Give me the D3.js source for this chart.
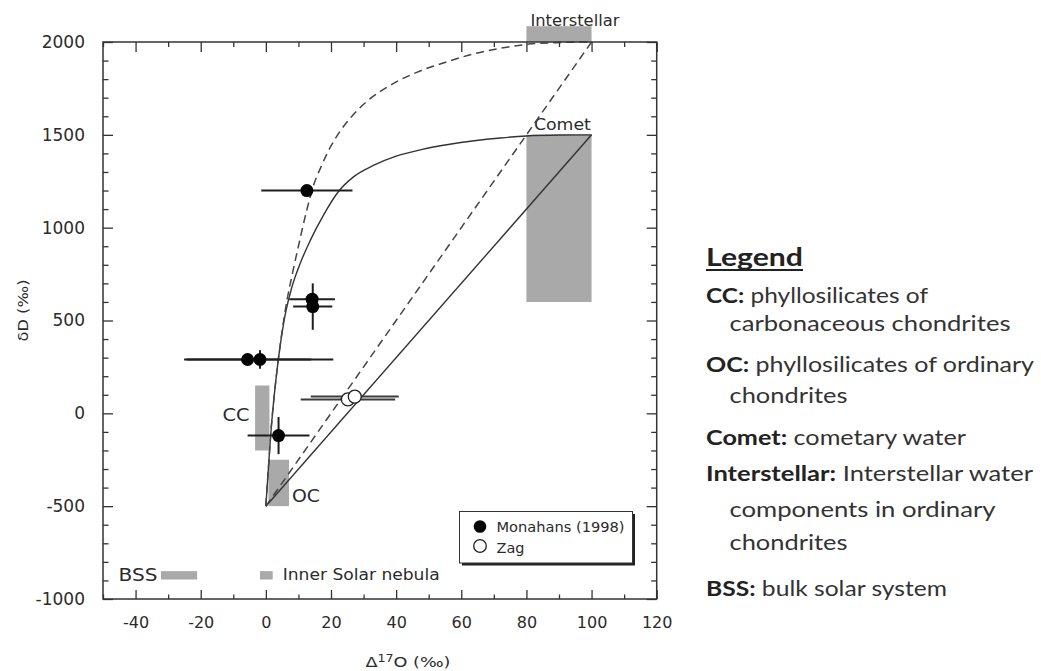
<!DOCTYPE html>
<html>
<head>
<meta charset="utf-8">
<script src="https://cdn.jsdelivr.net/npm/d3@7"></script>
<style>
  body { margin: 0; background: #fff; }
  svg { display: block; }
</style>
</head>
<body>
<svg id="chart" width="1041" height="671"></svg>
<script>
// ---- Data -------------------------------------------------------------
// Axes: Δ17O (‰) against δD (‰)
const xDomain = [-50, 120];
const yDomain = [-1000, 2000];
const xMajorTicks = [-40, -20, 0, 20, 40, 60, 80, 100, 120];
const xMinorTicks = [-50, -30, -10, 10, 30, 50, 70, 90, 110];
const yMajorTicks = [-1000, -500, 0, 500, 1000, 1500, 2000];
const yMinorTicks = [-900, -800, -700, -600, -400, -300, -200, -100, 100, 200, 300, 400,
                     600, 700, 800, 900, 1100, 1200, 1300, 1400, 1600, 1700, 1800, 1900];

// Monahans (1998) measurements with error bars
const monahansX    = [12.6, 14.2, 14.4, -5.6, -1.8, 3.9];
const monahansY    = [1200, 615, 575, 290, 290, -120];
const monahansXErr = [14, 7, 6, 19.5, 22.5, 9.5];
const monahansYErr = [0, 0, 125, 0, 50, 100];

// Zag measurements with error bars
const zagX    = [25.2, 27.3];
const zagY    = [75, 90];
const zagXErr = [14.5, 13.5];

const seriesNames = ["Monahans (1998)", "Zag"];

// Water reservoirs (grey fields)
const regionNames = ["Interstellar", "Comet", "CC", "OC", "BSS", "Inner Solar nebula"];
const regionX0 = [80, 80, -3.3, 0.8, -32.2, -1.8];
const regionX1 = [100, 100, 1.1, 7.1, -21.1, 2.1];
const regionY0 = [2000, 600, -200, -500, -895, -895];
const regionY1 = [2085, 1500, 150, -250, -850, -850];

// Mixing curves towards cometary water (solid) and interstellar water (dashed)
const cometCurveX = [0, 0.8, 1.6, 2.6, 3.9, 5.6, 8, 10.6, 13.6, 17.7, 22.3, 27, 33, 40, 48, 56, 64, 72, 80, 90, 100];
const cometCurveY = [-500, -290, -90, 100, 300, 500, 680, 810, 930, 1068, 1195, 1275, 1335, 1385, 1422, 1448, 1468, 1483, 1494, 1499, 1500];
const interstellarCurveX = [0, 0.8, 1.6, 2.6, 3.9, 5.3, 6.5, 8, 10, 12.5, 14.5, 17, 20, 23, 25.9, 31, 38, 46.5, 55, 64, 74, 80, 90, 100];
const interstellarCurveY = [-500, -290, -90, 100, 300, 480, 610, 740, 900, 1090, 1220, 1330, 1440, 1525, 1590, 1680, 1765, 1838, 1890, 1937, 1972, 1987, 1997, 2000];
const cometLineX = [0, 100];
const cometLineY = [-500, 1500];
const interstellarLineX = [0, 100];
const interstellarLineY = [-500, 2000];

// Side legend text
const legendTitle = "Legend";
const legendTerms = ["CC:", "OC:", "Comet:", "Interstellar:", "BSS:"];
const legendDescriptions = [
  ["phyllosilicates of", "carbonaceous chondrites"],
  ["phyllosilicates of ordinary", "chondrites"],
  ["cometary water"],
  ["Interstellar water", "components in ordinary", "chondrites"],
  ["bulk solar system"]
];

// ---- Layout -------------------------------------------------------------
const svg = d3.select("#chart");
const chartFont = "'DejaVu Sans', sans-serif";
const sideFont = "Lato, 'Open Sans', sans-serif";
const ink = "#2b2b2b";

const x = d3.scaleLinear().domain(xDomain).range([103, 656.7]);
const y = d3.scaleLinear().domain(yDomain).range([599, 42]);

const zip = (a, b) => a.map((v, i) => [v, b[i]]);

// grey reservoir fields
svg.append("g")
  .selectAll("rect")
  .data(regionNames.map((n, i) => i))
  .join("rect")
  .attr("x", i => x(regionX0[i]))
  .attr("width", i => x(regionX1[i]) - x(regionX0[i]))
  .attr("y", i => y(regionY1[i]))
  .attr("height", i => y(regionY0[i]) - y(regionY1[i]))
  .attr("fill", "#a9a9a9");

// reservoir labels: [anchor, corner x, corner y, dx, dy, font size, text length]
const regionLabelLayout = [
  ["start", "x0", "y1", 4, -0.5, 16, 89],
  ["start", "x0", "y1", 7.5, -4.5, 16, 57],
  ["end", "x0", "mid", -5.5, 3, 17.5, 27],
  ["start", "x1", "y0", 3, -4, 17.5, 28],
  ["end", "x0", "y0", -3.5, 1, 17, 39],
  ["start", "x1", "y0", 10, 0.5, 16, 157]
];
svg.append("g")
  .selectAll("text")
  .data(regionNames.map((n, i) => i))
  .join("text")
  .attr("text-anchor", i => regionLabelLayout[i][0])
  .attr("x", i => (regionLabelLayout[i][1] === "x0" ? x(regionX0[i]) : x(regionX1[i])) + regionLabelLayout[i][3])
  .attr("y", i => {
    const L = regionLabelLayout[i];
    const yy = L[2] === "y0" ? y(regionY0[i]) : L[2] === "y1" ? y(regionY1[i]) : (y(regionY0[i]) + y(regionY1[i])) / 2;
    return yy + L[4];
  })
  .attr("font-family", chartFont)
  .attr("font-size", i => regionLabelLayout[i][5])
  .attr("textLength", i => regionLabelLayout[i][6])
  .attr("lengthAdjust", "spacingAndGlyphs")
  .attr("fill", ink)
  .text(i => regionNames[i]);

// mixing lines and curves
const line = d3.line().x(d => x(d[0])).y(d => y(d[1]));
const curve = d3.line().x(d => x(d[0])).y(d => y(d[1])).curve(d3.curveMonotoneX);
const mix = svg.append("g").attr("fill", "none");
mix.append("path").attr("d", line(zip(cometLineX, cometLineY)))
  .attr("stroke", "#333").attr("stroke-width", 1.4);
mix.append("path").attr("d", line(zip(interstellarLineX, interstellarLineY)))
  .attr("stroke", "#444").attr("stroke-width", 1.5).attr("stroke-dasharray", "8,5");
mix.append("path").attr("d", curve(zip(cometCurveX, cometCurveY)))
  .attr("stroke", "#333").attr("stroke-width", 1.4);
mix.append("path").attr("d", curve(zip(interstellarCurveX, interstellarCurveY)))
  .attr("stroke", "#444").attr("stroke-width", 1.5).attr("stroke-dasharray", "8,5");

// frame and inward ticks on all four sides
const fmt = d => String(d);
function styleAxis(g) {
  g.select(".domain").remove();
  g.selectAll(".tick line").attr("stroke", "#333").attr("stroke-width", 1.3);
  g.selectAll(".tick text").attr("font-family", chartFont).attr("fill", ink);
}
svg.append("g").attr("transform", `translate(0,${y(-1000)})`)
  .call(d3.axisBottom(x).tickValues(xMajorTicks).tickSizeInner(-9).tickSizeOuter(0).tickPadding(18).tickFormat(fmt))
  .call(styleAxis).call(g => g.selectAll(".tick text").attr("font-size", 16));
svg.append("g").attr("transform", `translate(0,${y(-1000)})`)
  .call(d3.axisBottom(x).tickValues(xMinorTicks).tickSizeInner(-4.5).tickSizeOuter(0).tickFormat(""))
  .call(styleAxis);
svg.append("g").attr("transform", `translate(0,${y(2000)})`)
  .call(d3.axisTop(x).tickValues(xMajorTicks).tickSizeInner(-10).tickSizeOuter(0).tickFormat(""))
  .call(styleAxis);
svg.append("g").attr("transform", `translate(0,${y(2000)})`)
  .call(d3.axisTop(x).tickValues(xMinorTicks).tickSizeInner(-5).tickSizeOuter(0).tickFormat(""))
  .call(styleAxis);
svg.append("g").attr("transform", `translate(${x(-50)},0)`)
  .call(d3.axisLeft(y).tickValues(yMajorTicks).tickSizeInner(-10).tickSizeOuter(0).tickPadding(18).tickFormat(fmt))
  .call(styleAxis).call(g => g.selectAll(".tick text").attr("font-size", 17));
svg.append("g").attr("transform", `translate(${x(-50)},0)`)
  .call(d3.axisLeft(y).tickValues(yMinorTicks).tickSizeInner(-5.5).tickSizeOuter(0).tickFormat(""))
  .call(styleAxis);
svg.append("g").attr("transform", `translate(${x(120)},0)`)
  .call(d3.axisRight(y).tickValues(yMajorTicks).tickSizeInner(-10).tickSizeOuter(0).tickFormat(""))
  .call(styleAxis);
svg.append("g").attr("transform", `translate(${x(120)},0)`)
  .call(d3.axisRight(y).tickValues(yMinorTicks).tickSizeInner(-5.5).tickSizeOuter(0).tickFormat(""))
  .call(styleAxis);
svg.append("rect")
  .attr("x", x(-50)).attr("y", y(2000))
  .attr("width", x(120) - x(-50)).attr("height", y(-1000) - y(2000))
  .attr("fill", "none").attr("stroke", "#333").attr("stroke-width", 1.5);

// axis titles
svg.append("text")
  .attr("transform", `translate(27.5,${(y(2000) + y(-1000)) / 2 - 10}) rotate(-90)`)
  .attr("text-anchor", "middle")
  .attr("font-family", chartFont).attr("font-size", 14).attr("fill", ink)
  .attr("textLength", 62).attr("lengthAdjust", "spacingAndGlyphs")
  .text("δD (‰)");
const xt = svg.append("text")
  .attr("x", 408).attr("y", 667)
  .attr("text-anchor", "middle")
  .attr("font-family", chartFont).attr("font-size", 14).attr("fill", ink)
  .attr("textLength", 85).attr("lengthAdjust", "spacingAndGlyphs");
xt.append("tspan").text("Δ");
xt.append("tspan").attr("font-size", 10).attr("dy", -5).text("17");
xt.append("tspan").attr("dy", 5).text("O (‰)");

// error bars
const err = svg.append("g").attr("stroke", "#1e1e1e").attr("stroke-width", 2);
monahansX.forEach((v, i) => {
  err.append("line")
    .attr("x1", x(v - monahansXErr[i])).attr("x2", x(v + monahansXErr[i]))
    .attr("y1", y(monahansY[i])).attr("y2", y(monahansY[i]));
  if (monahansYErr[i] > 0) {
    err.append("line")
      .attr("x1", x(v)).attr("x2", x(v))
      .attr("y1", y(monahansY[i] - monahansYErr[i])).attr("y2", y(monahansY[i] + monahansYErr[i]));
  }
});
zagX.forEach((v, i) => {
  err.append("line")
    .attr("x1", x(v - zagXErr[i])).attr("x2", x(v + zagXErr[i]))
    .attr("y1", y(zagY[i])).attr("y2", y(zagY[i]))
    .attr("stroke", "#3a3a3a");
});

// data points
svg.append("g").selectAll("circle")
  .data(zip(monahansX, monahansY)).join("circle")
  .attr("cx", d => x(d[0])).attr("cy", d => y(d[1])).attr("r", 6.5)
  .attr("fill", "#050505");
svg.append("g").selectAll("circle")
  .data(zip(zagX, zagY)).join("circle")
  .attr("cx", d => x(d[0])).attr("cy", d => y(d[1])).attr("r", 6.5)
  .attr("fill", "#fff").attr("stroke", "#222").attr("stroke-width", 1.3);

// series key
const key = svg.append("g").attr("transform", "translate(459.5,511.5)");
key.append("rect").attr("x", 2.5).attr("y", 2.5).attr("width", 173).attr("height", 51.5).attr("fill", "#222");
key.append("rect").attr("width", 173).attr("height", 51.5).attr("fill", "#fff").attr("stroke", "#333").attr("stroke-width", 1);
key.append("circle").attr("cx", 20.5).attr("cy", 15).attr("r", 6.3).attr("fill", "#050505");
key.append("circle").attr("cx", 20.5).attr("cy", 34.5).attr("r", 6.3).attr("fill", "#fff").attr("stroke", "#222").attr("stroke-width", 1.3);
const keyWidths = [128, 28];
seriesNames.forEach((n, i) => {
  key.append("text")
    .attr("x", 37).attr("y", 20.5 + i * 20.5)
    .attr("font-family", chartFont).attr("font-size", 14).attr("fill", ink)
    .attr("textLength", keyWidths[i]).attr("lengthAdjust", "spacingAndGlyphs")
    .text(n);
});

// side legend
const side = svg.append("g").attr("font-family", sideFont).attr("fill", "#222");
side.append("text")
  .attr("x", 706).attr("y", 265.5)
  .attr("font-size", 24).attr("font-weight", 700)
  .attr("textLength", 97).attr("lengthAdjust", "spacingAndGlyphs")
  .text(legendTitle);
side.append("line").attr("x1", 706).attr("x2", 803).attr("y1", 270).attr("y2", 270)
  .attr("stroke", "#222").attr("stroke-width", 2);

const sideBaselines = [[303, 331], [372, 403], [445], [481, 517, 550], [596]];
const sideWidths = [[222, 281], [328, 118], [260], [327, 266, 118], [241]];
legendTerms.forEach((term, i) => {
  legendDescriptions[i].forEach((desc, j) => {
    const t = side.append("text")
      .attr("x", j === 0 ? 706 : 729.5)
      .attr("y", sideBaselines[i][j])
      .attr("font-size", 21)
      .attr("textLength", sideWidths[i][j]).attr("lengthAdjust", "spacingAndGlyphs");
    if (j === 0) {
      t.append("tspan").attr("font-weight", 700).text(term);
      t.append("tspan").attr("fill", "#333").text(" " + desc);
    } else {
      t.append("tspan").attr("fill", "#333").text(desc);
    }
  });
});
</script>
</body>
</html>
